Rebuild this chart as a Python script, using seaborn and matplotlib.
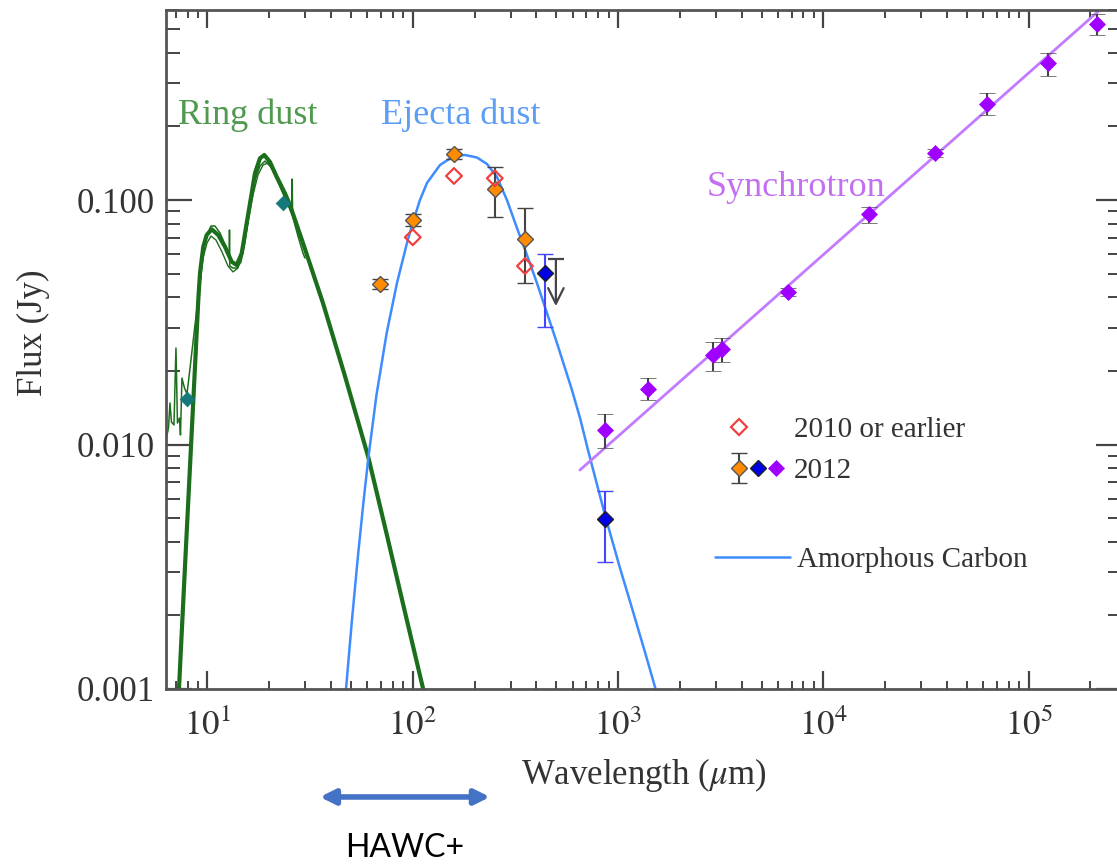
import numpy as np
import matplotlib
matplotlib.use("Agg")
import matplotlib.pyplot as plt
import seaborn as sns
from matplotlib.lines import Line2D
from matplotlib.legend_handler import HandlerTuple
from matplotlib.ticker import FixedLocator, FixedFormatter, LogLocator, NullFormatter

# ---------------- data ----------------
# Ring dust model (thick green)
ring_lam = [7.167, 7.263, 7.77, 8.219, 8.694, 9.02, 9.193, 9.539, 9.91, 10.48, 11.29, 12.17, 13.12,
            13.88, 14.68, 15.52, 16.42, 17.03, 18.02, 18.91, 20.16, 21.73, 23.85, 25.22, 29.18,
            36.52, 46.74, 60.7, 74.64, 91.6, 112.7, 114.0]
ring_flux = [0.0009, 0.001, 0.003163, 0.00811, 0.0208, 0.039, 0.0501, 0.0644, 0.0719, 0.0759, 0.0719,
             0.0644, 0.0559, 0.0542, 0.0605, 0.0803, 0.1065, 0.1286, 0.1481, 0.1528, 0.143, 0.1245,
             0.1065, 0.0954, 0.0667, 0.0379, 0.01906, 0.00889, 0.0043, 0.002065, 0.00099, 0.0009]
# Ring spectrum (thin green lines)
spec_lam = [6.28, 6.457, 6.567, 6.678, 6.867, 7.023, 7.142, 7.304, 7.387, 7.512, 7.727, 7.946, 8.31,
            8.694, 9.09, 9.508, 9.945, 10.4, 10.88, 11.51, 12.31, 12.77, 12.8, 12.84, 13.31, 13.92,
            14.56, 15.23, 16.11, 17.03, 18.02, 19.06, 20.39, 22.05, 23.85, 25.79, 25.88, 25.97,
            27.59, 29.18, 29.84]
spec_flux = [0.01043, 0.01168, 0.01478, 0.01236, 0.01202, 0.0248, 0.01224, 0.01283, 0.01094, 0.0187,
             0.01702, 0.01609, 0.02216, 0.03083, 0.04204, 0.06127, 0.0719, 0.07827, 0.07827, 0.07328,
             0.06425, 0.0601, 0.07539, 0.0537, 0.05269, 0.05269, 0.05577, 0.0673, 0.0927, 0.1207,
             0.1377, 0.1443, 0.1365, 0.1185, 0.1019, 0.0876, 0.1218, 0.086, 0.0712, 0.0607, 0.0579]
spec2_lam = [9.02, 9.508, 9.945, 10.4, 11.0, 11.77, 12.59, 13.31, 14.08, 14.89, 15.75, 16.66, 17.62,
             18.64, 19.71, 21.08, 22.8, 24.94, 27.29, 29.84]
spec2_flux = [0.039, 0.0579, 0.0667, 0.0712, 0.0686, 0.0613, 0.0537, 0.0508, 0.0527, 0.0625, 0.0813,
              0.1048, 0.1265, 0.139, 0.1417, 0.1302, 0.1119, 0.0945, 0.0768, 0.0625]
# Ejecta dust: amorphous carbon model (blue)
carbon_lam = [46.5, 47.3, 50.56, 54.08, 57.53, 60.83, 66.56, 74.64, 83.76, 93.7, 100.2, 108.4, 117.3,
              135.7, 157.0, 179.6, 205.5, 229.8, 257.1, 287.6, 321.8, 359.9, 402.7, 450.5, 504.1,
              596.5, 655.0, 713.6, 863.5, 1021.6, 1168.6, 1352.0, 1529.0, 1547.0]
carbon_flux = [0.000885, 0.001, 0.001915, 0.0035, 0.00582, 0.00889, 0.01594, 0.02858, 0.04575, 0.0667,
               0.0813, 0.1, 0.1174, 0.139, 0.1506, 0.1528, 0.1492, 0.1404, 0.1242, 0.1, 0.0768, 0.0596,
               0.04575, 0.0345, 0.026, 0.0167, 0.0127, 0.0095, 0.00515, 0.003126, 0.002145, 0.001417,
               0.00099, 0.00092]
# Synchrotron power law (violet line)
sync_lam = [652, 3.0e5]
sync_flux = [0.00786, 0.748]

# Measurements
teal_lam = [7.92, 23.4]
teal_flux = [0.0153, 0.097]

red_lam = [100, 158.8, 251, 352]
red_flux = [0.0704, 0.1254, 0.1227, 0.0537]

orange_lam = [69.2, 100, 158.8, 251, 352]
orange_flux = [0.0453, 0.0828, 0.154, 0.1106, 0.069]
orange_lo = [0.0432, 0.0783, 0.1471, 0.0852, 0.0458]
orange_hi = [0.0475, 0.0876, 0.1617, 0.1364, 0.0927]

blue_lam = [440, 863]
blue_flux = [0.0501, 0.00496]
blue_lo = [0.0301, 0.0033]
blue_hi = [0.0600, 0.00646]

ul_lam = [498]
ul_flux = [0.0572]
ul_tip = [0.0368]

purple_lam = [863, 1403, 2911, 3196, 6745, 16740, 34970, 62800, 124600, 214300]
purple_flux = [0.01146, 0.01686, 0.0232, 0.0245, 0.0419, 0.0874, 0.156, 0.247, 0.362, 0.523]
purple_lo = [0.00965, 0.0152, 0.0200, 0.0218, 0.0404, 0.0808, 0.1504, 0.222, 0.323, 0.472]
purple_hi = [0.01329, 0.0187, 0.0262, 0.0272, 0.0435, 0.0937, 0.1621, 0.274, 0.401, 0.574]

hawc_band = [35.3, 237.7]
hawc_label_lam = 91.6

x_ticks = [10, 100, 1000, 1e4, 1e5]
x_tick_labels = ["$10^{1}$", "$10^{2}$", "$10^{3}$", "$10^{4}$", "$10^{5}$"]
y_ticks = [0.001, 0.01, 0.1]
y_tick_labels = ["0.001", "0.010", "0.100"]

# ---------------- style ----------------
sns.set_theme(style="ticks")
plt.rcParams["font.family"] = ["Liberation Serif", "DejaVu Serif"]
plt.rcParams["mathtext.fontset"] = "stix"

GREEN = "#1b6e1b"
GREEN_TXT = "#4f9a4f"
BLUE_LINE = "#3f8cff"
BLUE_TXT = "#5c9ef5"
VIOLET_LINE = "#c27aff"
VIOLET_TXT = "#c46ef2"
PURPLE = "#a000ff"
ORANGE = "#ff8c00"
DBLUE = "#0000e6"
RED = "#f04040"
TEAL = "#15787a"
GRAY = "#444444"
TXT = "#333333"
MS = 8

fig = plt.figure(figsize=(11.17, 8.66), dpi=100)
ax = fig.add_axes([0.14861, 0.20439, 0.85586, 0.78464])
ax.set_xscale("log")
ax.set_yscale("log")
ax.set_xlim(6.28, 2.85e5)
ax.set_ylim(0.001, 0.6014)

# model lines
sns.lineplot(x=spec_lam, y=spec_flux, ax=ax, sort=False, estimator=None, color=GREEN, lw=1.1, zorder=2)
sns.lineplot(x=spec2_lam, y=spec2_flux, ax=ax, sort=False, estimator=None, color=GREEN, lw=1.0, zorder=2)
sns.lineplot(x=ring_lam, y=ring_flux, ax=ax, sort=False, estimator=None, color=GREEN, lw=3.0, zorder=2)
sns.lineplot(x=carbon_lam, y=carbon_flux, ax=ax, sort=False, estimator=None, color=BLUE_LINE, lw=1.8, zorder=2)
sns.lineplot(x=sync_lam, y=sync_flux, ax=ax, sort=False, estimator=None, color=VIOLET_LINE, lw=2.0, zorder=2)

# measurements
sns.scatterplot(x=teal_lam, y=teal_flux, ax=ax, marker="D", s=55, color=TEAL, edgecolor=TEAL, zorder=4)

def yerr(v, lo, hi):
    v = np.asarray(v); return [v - np.asarray(lo), np.asarray(hi) - v]

ebkw = dict(elinewidth=1.5, capsize=5.5, capthick=1.5, zorder=4)
orange_cont = ax.errorbar(orange_lam, orange_flux, yerr=yerr(orange_flux, orange_lo, orange_hi), fmt="D",
                          ms=MS, mfc=ORANGE, mec="#555555", mew=1.0, ecolor=GRAY, **ebkw)
sns.scatterplot(x=red_lam, y=red_flux, ax=ax, marker="D", s=MS**2, facecolor="none", edgecolor=RED,
                linewidth=1.6, zorder=5)
ax.errorbar(blue_lam, blue_flux, yerr=yerr(blue_flux, blue_lo, blue_hi), fmt="D", ms=MS, mfc=DBLUE,
            mec="#222222", mew=1.0, ecolor="#4545ff", **ebkw)
ax.errorbar(purple_lam, purple_flux, yerr=yerr(purple_flux, purple_lo, purple_hi), fmt="D", ms=MS,
            mfc=PURPLE, mec=PURPLE, mew=0.5, ecolor=GRAY, **ebkw)
# upper limit
ax.plot(ul_lam, ul_flux, marker="_", ms=12, mew=1.6, color=GRAY, ls="none", zorder=4)
ax.annotate("", xy=(ul_lam[0], ul_tip[0]), xytext=(ul_lam[0], ul_flux[0]),
            arrowprops=dict(arrowstyle="->", color=GRAY, lw=1.6, mutation_scale=28, shrinkA=0, shrinkB=0),
            zorder=4)

# labels on the plot
ax.text(7.18, 0.2226, "Ring dust", color=GREEN_TXT, fontsize=26, va="center", ha="left")
ax.text(70, 0.2226, "Ejecta dust", color=BLUE_TXT, fontsize=26, va="center", ha="left")
ax.text(2710, 0.112, "Synchrotron", color=VIOLET_TXT, fontsize=26, va="center", ha="left")

# axes formatting
ax.xaxis.set_major_locator(FixedLocator(x_ticks))
ax.xaxis.set_major_formatter(FixedFormatter(x_tick_labels))
ax.xaxis.set_minor_locator(LogLocator(base=10, subs=np.arange(2, 10), numticks=20))
ax.xaxis.set_minor_formatter(NullFormatter())
ax.yaxis.set_major_locator(FixedLocator(y_ticks))
ax.yaxis.set_major_formatter(FixedFormatter(y_tick_labels))
ax.yaxis.set_minor_locator(LogLocator(base=10, subs=np.arange(2, 10), numticks=20))
ax.yaxis.set_minor_formatter(NullFormatter())

ax.tick_params(axis="both", which="both", direction="in", top=True, right=True, colors=GRAY,
               labelcolor=TXT, labelsize=25)
ax.tick_params(axis="y", which="major", length=19, width=1.6, pad=8)
ax.tick_params(axis="y", which="minor", length=10, width=1.4)
ax.tick_params(axis="x", which="major", length=13, width=1.6, pad=15)
ax.tick_params(axis="x", which="minor", length=6, width=1.4)
for sp in ax.spines.values():
    sp.set_color("#555555")
    sp.set_linewidth(2)

ax.set_xlabel("Wavelength ($\\mu$m)", fontsize=25, color=TXT, labelpad=9)
ax.set_ylabel("Flux (Jy)", fontsize=25, color=TXT)
ax.yaxis.set_label_coords(-0.1213, 0.524)

# legends
red_h = Line2D([], [], ls="none", marker="D", ms=MS, mfc="none", mec=RED, mew=1.6)
blank = Line2D([], [], ls="none")
blue_h = Line2D([], [], ls="none", marker="D", ms=MS, mfc=DBLUE, mec="#222222", mew=1.0)
purple_h = Line2D([], [], ls="none", marker="D", ms=MS, mfc=PURPLE, mec=PURPLE, mew=0.5)
leg1 = ax.legend(handles=[(red_h, blank, blank), (orange_cont, blue_h, purple_h)],
                 labels=["2010 or earlier", "2012"],
                 handler_map={tuple: HandlerTuple(ndivide=None, pad=0.0)},
                 loc="center left", bbox_to_anchor=(0.590, 0.351), frameon=False, fontsize=21,
                 handlelength=1.9, handletextpad=0.3, borderpad=0, borderaxespad=0,
                 labelspacing=0.5, labelcolor=TXT)
ax.add_artist(leg1)
line_h = Line2D([], [], color=BLUE_LINE, lw=1.8)
ax.legend(handles=[line_h], labels=["Amorphous Carbon"], loc="center left",
          bbox_to_anchor=(0.5743, 0.1898), frameon=False, fontsize=21, handlelength=2.57,
          handletextpad=0.25, borderpad=0, borderaxespad=0, labelcolor=TXT)

# HAWC+ band annotation below the axis
ax.annotate("", xy=(hawc_band[0], 0.0797), xytext=(hawc_band[1], 0.0797),
            xycoords=("data", "figure fraction"), textcoords=("data", "figure fraction"),
            arrowprops=dict(arrowstyle="<|-|>", color="#4472C4", lw=4, mutation_scale=22,
                            shrinkA=0, shrinkB=0), annotation_clip=False)
ax.annotate("HAWC+", xy=(hawc_label_lam, 0.0208), xycoords=("data", "figure fraction"),
            ha="center", va="center", fontsize=23, family=["Lato", "DejaVu Sans"], color="black",
            annotation_clip=False)

fig.savefig("out.png", dpi=100)
